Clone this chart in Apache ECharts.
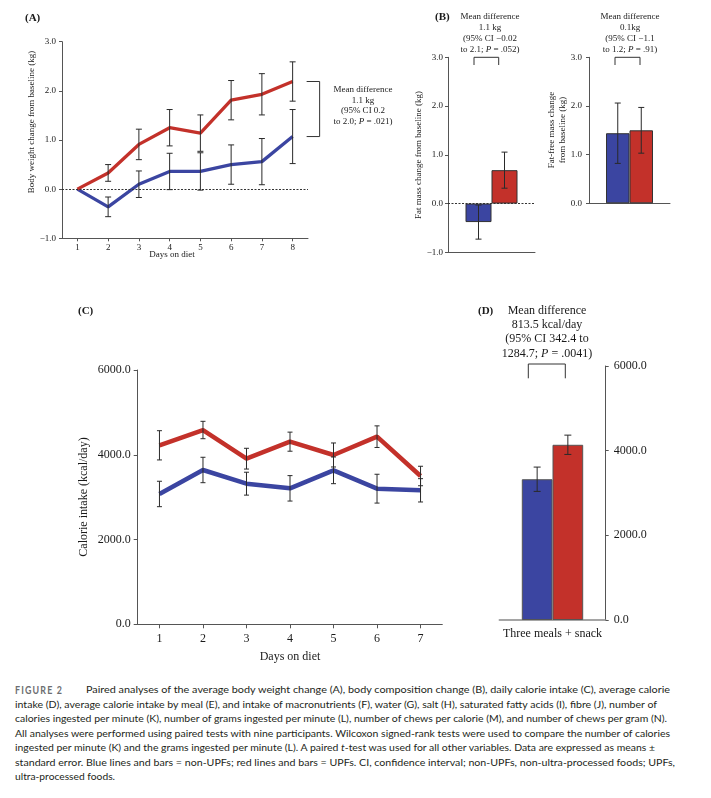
<!DOCTYPE html>
<html><head><meta charset="utf-8">
<script src="https://cdn.jsdelivr.net/npm/echarts@6/dist/echarts.min.js"></script>
<style>
html,body{margin:0;padding:0;background:#fff;}
#chart{position:absolute;left:0;top:0;width:711px;height:670px;}
#cap{position:absolute;left:0;top:670px;width:711px;height:128px;}
#cap text{font-family:Lato,"Noto Sans",sans-serif;font-size:9.6px;fill:#231f20;}
</style></head><body>
<div id="chart"></div>
<svg id="cap" width="711" height="128" xmlns="http://www.w3.org/2000/svg">
<text x="15" y="23.6" textLength="48" lengthAdjust="spacingAndGlyphs" style="font-weight:bold;font-size:10.8px;fill:#6d6e71;letter-spacing:1.4px">FIGURE 2</text>
<text x="86" y="23.3" textLength="584" lengthAdjust="spacingAndGlyphs">Paired analyses of the average body weight change (A), body composition change (B), daily calorie intake (C), average calorie</text>
<text x="15" y="37.8" textLength="642" lengthAdjust="spacingAndGlyphs">intake (D), average calorie intake by meal (E), and intake of macronutrients (F), water (G), salt (H), saturated fatty acids (I), fibre (J), number of</text>
<text x="15" y="52.2" textLength="652" lengthAdjust="spacingAndGlyphs">calories ingested per minute (K), number of grams ingested per minute (L), number of chews per calorie (M), and number of chews per gram (N).</text>
<text x="15" y="66.7" textLength="655" lengthAdjust="spacingAndGlyphs">All analyses were performed using paired tests with nine participants. Wilcoxon signed-rank tests were used to compare the number of calories</text>
<text x="15" y="81.1" textLength="640" lengthAdjust="spacingAndGlyphs">ingested per minute (K) and the grams ingested per minute (L). A paired <tspan style="font-style:italic">t</tspan>-test was used for all other variables. Data are expressed as means ±</text>
<text x="15" y="95.6" textLength="660" lengthAdjust="spacingAndGlyphs">standard error. Blue lines and bars = non-UPFs; red lines and bars = UPFs. CI, confidence interval; non-UPFs, non-ultra-processed foods; UPFs,</text>
<text x="15" y="110" textLength="100" lengthAdjust="spacingAndGlyphs">ultra-processed foods.</text>
</svg>
<script>
// ---------- DATA ----------
const daysA = ['1','2','3','4','5','6','7','8'];
const weightNonUPF = [0, -0.36, 0.10, 0.36, 0.36, 0.50, 0.56, 1.07];
const weightNonUPFse = [0, 0.20, 0.27, 0.37, 0.38, 0.40, 0.47, 0.55];
const weightUPF = [0, 0.33, 0.91, 1.25, 1.14, 1.81, 1.93, 2.19];
const weightUPFse = [0, 0.17, 0.31, 0.37, 0.37, 0.40, 0.42, 0.40];

const fatMassNonUPF = [-0.38];
const fatMassNonUPFse = [0.35];
const fatMassUPF = [0.685];
const fatMassUPFse = [0.37];

const ffmNonUPF = [1.44];
const ffmNonUPFse = [0.62];
const ffmUPF = [1.50];
const ffmUPFse = [0.47];

const daysC = ['1','2','3','4','5','6','7'];
const kcalUPF = [4223, 4584, 3908, 4309, 3995, 4427, 3499];
const kcalUPFse = [345, 205, 245, 225, 283, 255, 230];
const kcalNonUPF = [3075, 3641, 3318, 3208, 3633, 3200, 3161];
const kcalNonUPFse = [300, 300, 270, 300, 315, 340, 275];

const mealCat = ['Three meals + snack'];
const mealNonUPF = [3325];
const mealNonUPFse = [287];
const mealUPF = [4139];
const mealUPFse = [228];

const ticksWeight = [-1, 0, 1, 2, 3];
const ticksKcal = [0, 2000, 4000, 6000];

// ---------- STYLE ----------
const BLUE = '#3B45A1', RED = '#C3312A', INK = '#1a1a1a', AX = '#555';
const SERIF = '"Liberation Serif","Times New Roman",serif';

function errData(m, se) {
  return m.map((v, i) => [i, v - se[i], v + se[i]]).filter(d => d[2] > d[1]);
}
function errRender(offset, cap) {
  return function (params, api) {
    const i = api.value(0);
    const lo = api.coord([i, api.value(1)]);
    const hi = api.coord([i, api.value(2)]);
    const x = lo[0] + offset;
    const st = { stroke: '#2a2a2a', lineWidth: 1 };
    return { type: 'group', children: [
      { type: 'line', shape: { x1: x, y1: lo[1], x2: x, y2: hi[1] }, style: st },
      { type: 'line', shape: { x1: x - cap / 2, y1: lo[1], x2: x + cap / 2, y2: lo[1] }, style: st },
      { type: 'line', shape: { x1: x - cap / 2, y1: hi[1], x2: x + cap / 2, y2: hi[1] }, style: st }
    ]};
  };
}
function errSeries(ax, m, se, offset, cap) {
  return { type: 'custom', xAxisIndex: ax, yAxisIndex: ax, data: errData(m, se),
    encode: { x: 0, y: [1, 2] }, renderItem: errRender(offset, cap), z: 5, silent: true };
}
function fmtW(v) { return (v < 0 ? '\u2212' : '') + Math.abs(v).toFixed(1); }

function xAx(grid, data, opt) {
  return Object.assign({ gridIndex: grid, type: 'category', data: data,
    axisLine: { onZero: false, lineStyle: { color: AX, width: 1 } },
    axisTick: { show: false }, axisLabel: { show: false }, splitLine: { show: false } }, opt || {});
}
function yAx(grid, min, max, interval, fs, fmt, opt) {
  return Object.assign({ gridIndex: grid, type: 'value', min: min, max: max, interval: interval,
    axisLine: { show: true, lineStyle: { color: AX, width: 1 } },
    axisTick: { show: true, length: 3, lineStyle: { color: AX } },
    splitLine: { show: false },
    axisLabel: { fontFamily: SERIF, fontSize: fs, color: INK, margin: 5, formatter: fmt } }, opt || {});
}

function txt(text, x, y, size, extra) {
  extra = extra || {};
  return { type: 'text', x: x, y: y, rotation: extra.rotation || 0, z: 100,
    style: { text: text, fontFamily: SERIF, fontSize: size, fontWeight: extra.bold ? 'bold' : 'normal',
      fill: INK, align: extra.align || 'center', verticalAlign: 'middle',
      textAlign: extra.align || 'center', textVerticalAlign: 'middle',
      rich: { i: { fontStyle: 'italic', fontFamily: SERIF, fontSize: size, fill: INK } } } };
}
function bracket(x1, x2, yTop, yBot) {
  return { type: 'polyline', z: 100,
    shape: { points: [[x1, yBot], [x1, yTop], [x2, yTop], [x2, yBot]] },
    style: { stroke: '#333', lineWidth: 1, fill: null } };
}

const dashed0 = { silent: true, symbol: ['none', 'none'], label: { show: false },
  lineStyle: { type: [2, 1.5], color: '#333', width: 1 }, data: [{ yAxis: 0 }] };

const option = {
  animation: false,
  grid: [
    { left: 62, top: 41.7, width: 246, height: 196.6 },
    { left: 448, top: 57.3, width: 87, height: 195 },
    { left: 589, top: 57.3, width: 81, height: 146 },
    { left: 137.7, top: 370, width: 304.6, height: 254.3 },
    { left: 499.3, top: 366, width: 106.4, height: 254 }
  ],
  xAxis: [
    xAx(0, daysA, { axisTick: { show: true, alignWithLabel: true, length: 3, lineStyle: { color: AX } },
      axisLabel: { show: true, fontFamily: SERIF, fontSize: 9, color: INK, margin: 5 } }),
    xAx(1, ['Fat mass']),
    xAx(2, ['Fat-free mass']),
    xAx(3, daysC, { axisTick: { show: true, alignWithLabel: true, length: 4, lineStyle: { color: AX } },
      axisLabel: { show: true, fontFamily: SERIF, fontSize: 12, color: INK, margin: 9 } }),
    xAx(4, mealCat, { axisLine: { onZero: false, lineStyle: { color: '#888', width: 1.5 } },
      axisLabel: { show: true, fontFamily: SERIF, fontSize: 12, color: INK, margin: 8 } })
  ],
  yAxis: [
    yAx(0, ticksWeight[0], ticksWeight[4], 1, 9, fmtW, { axisLabel: { fontFamily: SERIF, fontSize: 9, color: INK, margin: 6, formatter: fmtW } }),
    yAx(1, ticksWeight[0], ticksWeight[4], 1, 9, fmtW),
    yAx(2, 0, ticksWeight[4], 1, 9, fmtW, { axisLabel: { fontFamily: SERIF, fontSize: 9, color: INK, margin: 7, formatter: fmtW } }),
    yAx(3, ticksKcal[0], ticksKcal[3], 2000, 12, v => v.toFixed(1), { axisTick: { show: true, length: 4, lineStyle: { color: AX } },
      axisLabel: { fontFamily: SERIF, fontSize: 12, color: INK, margin: 7, formatter: v => v.toFixed(1) } }),
    yAx(4, ticksKcal[0], ticksKcal[3], 2000, 12, v => v.toFixed(1), { position: 'right',
      axisTick: { show: true, length: 3, lineStyle: { color: AX } },
      axisLabel: { fontFamily: SERIF, fontSize: 12, color: INK, margin: 8, formatter: v => v.toFixed(1) } })
  ],
  series: [
    // Panel A
    { type: 'line', xAxisIndex: 0, yAxisIndex: 0, data: weightNonUPF, symbol: 'none',
      lineStyle: { color: BLUE, width: 3.3 }, itemStyle: { color: BLUE }, z: 3, markLine: dashed0 },
    { type: 'line', xAxisIndex: 0, yAxisIndex: 0, data: weightUPF, symbol: 'none',
      lineStyle: { color: RED, width: 3.3 }, itemStyle: { color: RED }, z: 3 },
    errSeries(0, weightNonUPF, weightNonUPFse, 0, 6),
    errSeries(0, weightUPF, weightUPFse, 0, 6),
    { type: 'custom', xAxisIndex: 0, yAxisIndex: 0, silent: true, clip: false,
      data: [[7, weightUPF[7], weightNonUPF[7]]], encode: { x: 0, y: [1, 2] },
      renderItem: function (params, api) {
        const a = api.coord([api.value(0), api.value(1)]);
        const b = api.coord([api.value(0), api.value(2)]);
        const x0 = a[0] + 14, x1 = a[0] + 27;
        return { type: 'polyline', shape: { points: [[x0, a[1]], [x1, a[1]], [x1, b[1]], [x0, b[1]]] },
          style: { stroke: '#333', lineWidth: 1, fill: null } };
      } },
    // Panel B left
    { type: 'bar', xAxisIndex: 1, yAxisIndex: 1, data: fatMassNonUPF, barWidth: 26, barGap: '0%',
      itemStyle: { color: BLUE, borderColor: '#333', borderWidth: 1 }, markLine: dashed0 },
    { type: 'bar', xAxisIndex: 1, yAxisIndex: 1, data: fatMassUPF, barWidth: 26, barGap: '0%',
      itemStyle: { color: RED, borderColor: '#333', borderWidth: 1 } },
    errSeries(1, fatMassNonUPF, fatMassNonUPFse, -13, 6),
    errSeries(1, fatMassUPF, fatMassUPFse, 13, 6),
    // Panel B right
    { type: 'bar', xAxisIndex: 2, yAxisIndex: 2, data: ffmNonUPF, barWidth: 23.5, barGap: '0%',
      itemStyle: { color: BLUE, borderColor: '#333', borderWidth: 1 } },
    { type: 'bar', xAxisIndex: 2, yAxisIndex: 2, data: ffmUPF, barWidth: 23.5, barGap: '0%',
      itemStyle: { color: RED, borderColor: '#333', borderWidth: 1 } },
    errSeries(2, ffmNonUPF, ffmNonUPFse, -11.75, 6),
    errSeries(2, ffmUPF, ffmUPFse, 11.75, 6),
    // Panel C
    { type: 'line', xAxisIndex: 3, yAxisIndex: 3, data: kcalNonUPF, symbol: 'none',
      lineStyle: { color: BLUE, width: 4.5 }, itemStyle: { color: BLUE }, z: 3 },
    { type: 'line', xAxisIndex: 3, yAxisIndex: 3, data: kcalUPF, symbol: 'none',
      lineStyle: { color: RED, width: 4.5 }, itemStyle: { color: RED }, z: 3 },
    errSeries(3, kcalNonUPF, kcalNonUPFse, 0, 5),
    errSeries(3, kcalUPF, kcalUPFse, 0, 5),
    // Panel D
    { type: 'bar', xAxisIndex: 4, yAxisIndex: 4, data: mealNonUPF, barWidth: 30.7, barGap: '0%',
      itemStyle: { color: BLUE, borderColor: '#555', borderWidth: 1 } },
    { type: 'bar', xAxisIndex: 4, yAxisIndex: 4, data: mealUPF, barWidth: 30.7, barGap: '0%',
      itemStyle: { color: RED, borderColor: '#555', borderWidth: 1 } },
    errSeries(4, mealNonUPF, mealNonUPFse, -15.35, 7),
    errSeries(4, mealUPF, mealUPFse, 15.35, 7)
  ],
  graphic: [
    // Panel labels
    txt('(A)', 25, 18, 11, { bold: true, align: 'left' }),
    txt('(B)', 435, 17, 11, { bold: true, align: 'left' }),
    txt('(C)', 78, 311, 11, { bold: true, align: 'left' }),
    txt('(D)', 478, 311, 11, { bold: true, align: 'left' }),
    // Axis titles
    txt('Body weight change from baseline (kg)', 32, 122, 9, { rotation: Math.PI / 2 }),
    txt('Days on diet', 172, 255, 9),
    txt('Fat mass change from baseline (kg)', 419, 155, 9, { rotation: Math.PI / 2 }),
    txt('Fat-free mass change', 552, 130, 9, { rotation: Math.PI / 2 }),
    txt('from baseline (kg)', 562.5, 130, 9, { rotation: Math.PI / 2 }),
    txt('Calorie intake (kcal/day)', 84, 497, 12, { rotation: Math.PI / 2 }),
    txt('Days on diet', 290, 657, 12),
    // Annotation A
    txt('Mean difference', 363, 90, 9),
    txt('1.1 kg', 363, 100.5, 9),
    txt('(95% CI 0.2', 363, 111, 9),
    txt('to 2.0; {i|P} = .021)', 363, 122, 9),
    // Annotation B left
    txt('Mean difference', 490, 17, 9),
    txt('1.1 kg', 490, 27.5, 9),
    txt('(95% CI \u22120.02', 490, 39, 9),
    txt('to 2.1; {i|P} = .052)', 490, 50, 9),
    bracket(474, 498.7, 57.3, 65),
    // Annotation B right
    txt('Mean difference', 630, 17, 9),
    txt('0.1kg', 630, 27.5, 9),
    txt('(95% CI \u22121.1', 630, 39, 9),
    txt('to 1.2; {i|P} = .91)', 630, 50, 9),
    bracket(615, 640, 57.3, 65),
    // Annotation D
    txt('Mean difference', 547, 311, 12),
    txt('813.5 kcal/day', 547, 324.5, 12),
    txt('(95% CI 342.4 to', 547, 339, 12),
    txt('1284.7; {i|P} = .0041)', 547, 353.5, 12),
    bracket(528.3, 565.3, 364, 378.3)
  ]
};

const chart = echarts.init(document.getElementById('chart'), null, { renderer: 'canvas' });
chart.setOption(option);
</script>
</body></html>
